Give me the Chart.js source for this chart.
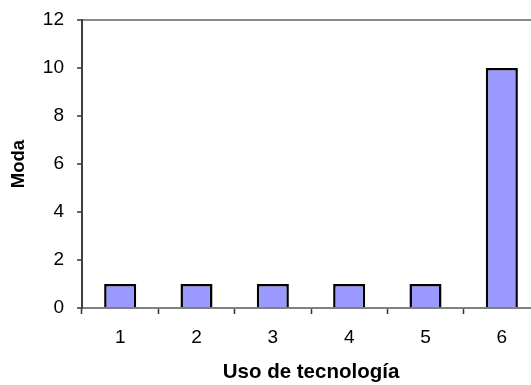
<!DOCTYPE html>
<html lang="es">
<head>
  <meta charset="UTF-8">
  <title>Moda - Uso de tecnología</title>
  <script src="https://cdn.jsdelivr.net/npm/chart.js"></script>
  <style>
    html, body { margin: 0; padding: 0; background: #fff; }
    .wrap { width: 531px; height: 385px; overflow: hidden; }
    canvas { display: block; }
  </style>
</head>
<body>
<div class="wrap"><canvas id="moda" width="545" height="385" style="width:545px;height:385px"></canvas></div>

<script>
const categories = ["1", "2", "3", "4", "5", "6"];
const modaValues = [1, 1, 1, 1, 1, 10];
const yTicks = [0, 2, 4, 6, 8, 10, 12];

const family = "'Liberation Sans', Arial, sans-serif";
const font = { family, size: 19 };

new Chart(document.getElementById('moda'), {
  type: 'bar',
  data: {
    labels: categories,
    datasets: [{
      label: 'Moda',
      data: modaValues,
      backgroundColor: '#9999ff',
      borderColor: '#000',
      borderWidth: 2.5,
      barPercentage: 0.42,
      categoryPercentage: 1
    }]
  },
  options: {
    responsive: false,
    animation: false,
    devicePixelRatio: 1,
    layout: { padding: { top: 20, right: 5, left: 0, bottom: 0 } },
    plugins: { legend: { display: false }, tooltip: { enabled: false } },
    scales: {
      x: {
        offset: true,
        grid: { drawOnChartArea: false, offset: true, tickLength: 6, tickColor: '#333', tickWidth: 1.5 },
        border: { color: '#808080', width: 2 },
        ticks: { color: '#000', font, padding: 12 },
        title: { display: true, text: 'Uso de tecnología', color: '#000',
                 font: { family, size: 20.5, weight: 'bold' }, padding: { top: 0, bottom: 0 } },
        afterFit: s => { s.height = 77; }
      },
      y: {
        min: 0, max: 12,
        afterBuildTicks: s => { s.ticks = yTicks.map(v => ({ value: v })); },
        grid: {
          color: c => c.tick && c.tick.value === 12 ? '#8a8a8a' : 'transparent',
          lineWidth: 2,
          tickLength: 5, tickColor: '#333', tickWidth: 1.5
        },
        border: { color: '#404040', width: 2 },
        ticks: { color: '#000', font, padding: 13 },
        title: { display: true, text: 'Moda', color: '#000',
                 font: { family, size: 18.5, weight: 'bold' }, padding: { top: 8, bottom: 0 } },
        // the label padding would otherwise push the plot down
        afterFit: s => { s.width = 82; s.paddingTop = 0; s.paddingBottom = 0; }
      }
    }
  }
});
</script>
</body>
</html>
